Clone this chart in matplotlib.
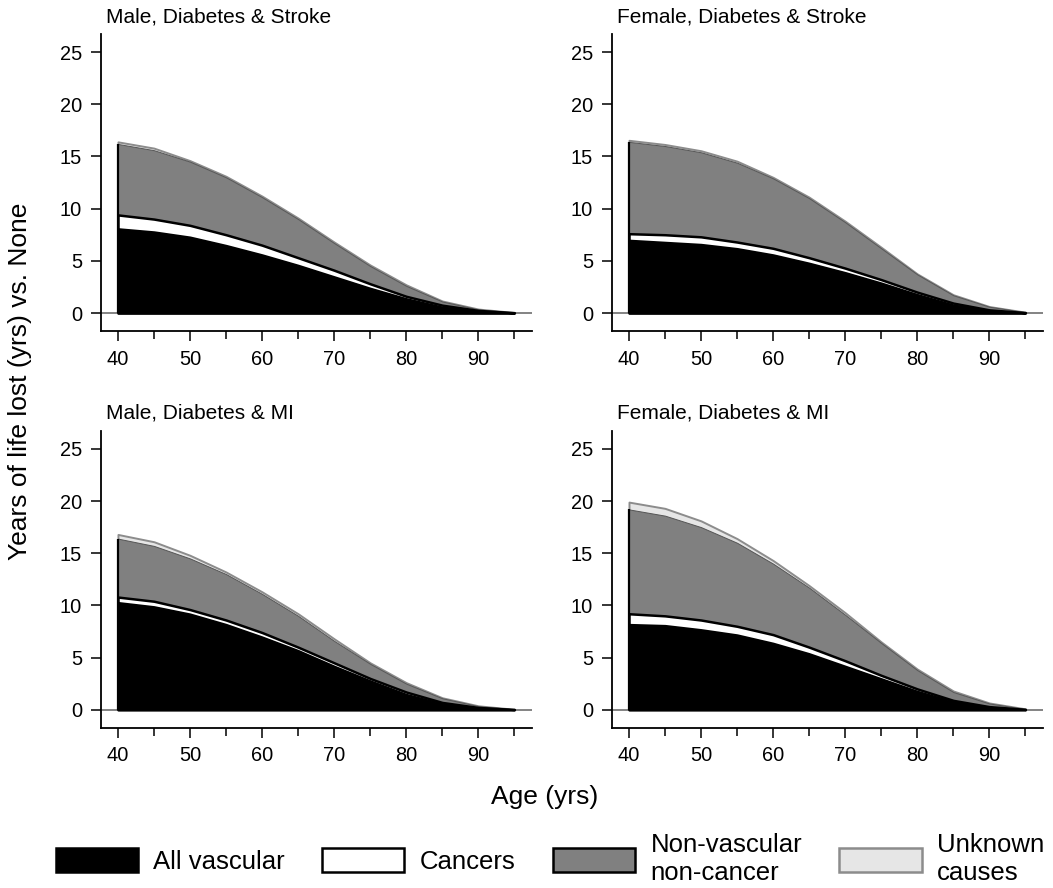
import matplotlib
matplotlib.use('Agg')
import matplotlib.pyplot as plt
from matplotlib.patches import Patch
import numpy as np

plt.rcParams['font.family'] = ['Liberation Sans', 'DejaVu Sans']

ages = [40, 45, 50, 55, 60, 65, 70, 75, 80, 85, 90, 95]

panel_titles = ['Male, Diabetes & Stroke', 'Female, Diabetes & Stroke',
                'Male, Diabetes & MI', 'Female, Diabetes & MI']

# years of life lost by cause, one list per panel
vascular = [
    [8.1, 7.8, 7.3, 6.5, 5.6, 4.6, 3.5, 2.4, 1.4, 0.6, 0.2, 0.02],
    [7.0, 6.8, 6.6, 6.2, 5.6, 4.8, 3.9, 2.9, 1.8, 0.8, 0.25, 0.03],
    [10.3, 9.9, 9.2, 8.2, 7.0, 5.7, 4.2, 2.8, 1.5, 0.6, 0.2, 0.02],
    [8.2, 8.1, 7.7, 7.2, 6.4, 5.4, 4.2, 3.0, 1.8, 0.8, 0.25, 0.03],
]
cancers = [
    [1.3, 1.2, 1.1, 1.0, 0.9, 0.7, 0.6, 0.4, 0.2, 0.15, 0.05, 0.01],
    [0.6, 0.7, 0.7, 0.6, 0.6, 0.5, 0.4, 0.3, 0.2, 0.15, 0.05, 0.01],
    [0.5, 0.5, 0.4, 0.4, 0.4, 0.3, 0.3, 0.2, 0.2, 0.1, 0.02, 0.01],
    [1.0, 0.9, 0.9, 0.8, 0.8, 0.6, 0.5, 0.3, 0.2, 0.1, 0.05, 0.01],
]
nonvascular = [
    [6.8, 6.6, 6.1, 5.5, 4.6, 3.7, 2.6, 1.7, 1.0, 0.35, 0.1, 0.02],
    [8.8, 8.5, 8.1, 7.6, 6.7, 5.7, 4.4, 3.0, 1.7, 0.75, 0.3, 0.04],
    [5.6, 5.3, 4.9, 4.4, 3.7, 3.0, 2.1, 1.4, 0.8, 0.4, 0.13, 0.02],
    [10.0, 9.6, 8.9, 8.0, 6.8, 5.7, 4.4, 3.1, 1.8, 0.8, 0.3, 0.04],
]
unknown = [
    [0.2, 0.2, 0.1, 0.1, 0.1, 0.1, 0.1, 0.1, 0.1, 0.05, 0.03, 0.0],
    [0.15, 0.15, 0.15, 0.15, 0.1, 0.1, 0.1, 0.1, 0.05, 0.05, 0.02, 0.0],
    [0.4, 0.4, 0.3, 0.2, 0.2, 0.2, 0.2, 0.1, 0.1, 0.05, 0.03, 0.0],
    [0.7, 0.7, 0.6, 0.4, 0.3, 0.2, 0.2, 0.1, 0.1, 0.1, 0.05, 0.01],
]

cause_labels = ['All vascular', 'Cancers', 'Non-vascular\nnon-cancer', 'Unknown\ncauses']
fills = ['black', 'white', '#808080', '#e6e6e6']
edges = ['black', 'black', '#555555', '#8c8c8c']
widths = [1.2, 1.8, 0.7, 1.4]

fig = plt.figure(figsize=(10.53, 8.88), dpi=100)

lefts = [0.0956, 0.5809, 0.0956, 0.5809]
bottoms = [0.6273, 0.6273, 0.1805, 0.1805]

for i in range(4):
    ax = fig.add_axes([lefts[i], bottoms[i], 0.4093, 0.334])
    x = np.array(ages)
    stack = np.cumsum([vascular[i], cancers[i], nonvascular[i], unknown[i]], axis=0)

    ax.axhline(0, color='#6e6e6e', lw=1.2, zorder=1)
    # largest total first, each layer filled down to zero
    for k in [3, 2, 1, 0]:
        ax.fill_between(x, 0, stack[k], facecolor=fills[k], edgecolor=edges[k],
                        linewidth=widths[k], zorder=2 + (3 - k))
    # dark left edge of the stack at the first age
    ax.vlines(ages[0], 0, stack[2][0], color='black', lw=1.6, zorder=7)

    ax.set_xlim(37.6, 97.4)
    ax.set_ylim(-1.72, 26.7)
    ax.set_xticks([40, 50, 60, 70, 80, 90])
    ax.set_xticks([45, 55, 65, 75, 85, 95], minor=True)
    ax.set_yticks([0, 5, 10, 15, 20, 25])
    for s in ['top', 'right']:
        ax.spines[s].set_visible(False)
    for s in ['left', 'bottom']:
        ax.spines[s].set_linewidth(1.3)
    ax.tick_params(which='major', length=7.5, width=1.1, labelsize=14.4, pad=6)
    ax.tick_params(which='minor', length=6, width=1.1)
    ax.text(0.012, 1.06, panel_titles[i], transform=ax.transAxes,
            fontsize=15, ha='left', va='center')

fig.text(0.019, 1 - 381 / 888.0, 'Years of life lost (yrs) vs. None', rotation=90,
         fontsize=19, ha='center', va='center')
fig.text(545 / 1053.0, 1 - 797 / 888.0, 'Age (yrs)', fontsize=19, ha='center', va='center')

handles = [Patch(facecolor=fills[k], edgecolor=edges[k] if k != 2 else 'black', linewidth=1.8)
           for k in range(4)]
fig.legend(handles, cause_labels, loc='center', bbox_to_anchor=(550 / 1053.0, 1 - 859 / 888.0),
           ncol=4, frameon=False, fontsize=18.5, handlelength=3.2, handleheight=1.05,
           handletextpad=0.6, columnspacing=1.45, labelspacing=0.0)

plt.savefig('out.png', dpi=100)
